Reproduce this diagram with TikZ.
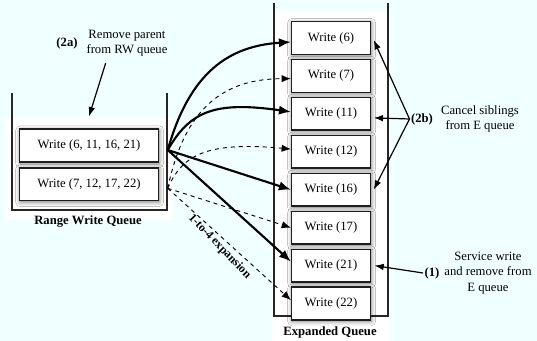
\documentclass[tikz,border=0pt]{standalone}
\usepackage{fontspec}
\setmainfont{Liberation Serif}
\usetikzlibrary{positioning,arrows.meta,shadows.blur}

\definecolor{bgcyan}{RGB}{240,255,255}
\definecolor{boxline}{RGB}{30,30,30}
\newcommand{\figfont}{\fontsize{9.5}{11.5}\selectfont}

\begin{document}
\begin{tikzpicture}[x=0.75pt, y=0.75pt, node distance=2.85pt,
    every node/.style={font=\figfont},
    wbox/.style={rectangle, draw=boxline, line width=1.1pt, fill=white, minimum height=24.5pt, inner sep=0pt,
        blur shadow={shadow xshift=0.5pt, shadow yshift=-1pt, shadow blur radius=3.5pt, shadow opacity=55}},
    rwbox/.style={wbox, minimum width=104pt},
    ebox/.style={wbox, minimum width=59pt},
    wall/.style={draw=black!85, line width=0.8pt},
    qlabel/.style={font=\figfont\bfseries},
    tag/.style={font=\figfont\bfseries, inner sep=1pt},
    note/.style={align=center, inner sep=1pt},
    expand/.style={-{Latex[length=9pt,width=7pt]}, line width=1.6pt},
    sibling/.style={-{Latex[length=7pt,width=5.5pt]}, dashed, line width=0.7pt},
    point/.style={-{Latex[length=7pt,width=5pt]}, line width=0.9pt}]

    % page and the two queue panels
    \fill[bgcyan] (0,0) rectangle (537,341);
    \useasboundingbox (0,0) rectangle (537,341);
    \fill[white] (5,121) rectangle (173,223);
    \fill[white] (272,0) rectangle (390,329);
    \draw[wall] (12,248) -- (12,131) -- (167,131) -- (167,248);
    \draw[wall] (274,338) -- (274,25) -- (388,25) -- (388,338);

    % range write queue
    \node (rw1) [rwbox] at (89,195.5) {Write (6, 11, 16, 21)};
    \node (rw2) [rwbox, below=3.5pt of rw1] {Write (7, 12, 17, 22)};
    \node (rwq) [qlabel] at (88,119) {Range Write Queue};

    % expanded queue
    \node (e6) [ebox] at (331,303) {Write (6)};
    \node (e7) [ebox, below=of e6] {Write (7)};
    \node (e11) [ebox, below=of e7] {Write (11)};
    \node (e12) [ebox, below=of e11] {Write (12)};
    \node (e16) [ebox, below=of e12] {Write (16)};
    \node (e17) [ebox, below=of e16] {Write (17)};
    \node (e21) [ebox, below=of e17] {Write (21)};
    \node (e22) [ebox, below=of e21] {Write (22)};
    \node (eq) [qlabel] at (330,9) {Expanded Queue};

    % 1-to-4 expansion
    \coordinate (fan1) at ([xshift=6.5pt, yshift=-3.4pt]rw1.east);
    \coordinate (fan2) at ([xshift=6.5pt, yshift=-3pt]rw2.east);
    \draw[sibling] (fan2) .. controls (185,235) and (225,262) .. ([yshift=-2pt]e7.west);
    \draw[sibling] (fan2) .. controls (182,185) and (205,200) .. ([yshift=2pt]e12.west);
    \draw[sibling] (fan2) -- (e17.west);
    \draw[sibling] (fan2) -- ([yshift=2.5pt]e22.west);
    \draw[expand] (fan1) .. controls (190,270) and (230,295) .. ([yshift=-3pt]e6.west);
    \draw[expand] (fan1) .. controls (190,230) and (215,240) .. ([yshift=1.5pt]e11.west);
    \draw[expand] (fan1) -- (e16.west);
    \draw[expand] (fan1) -- ([yshift=3pt]e21.west);
    \node (ratio) [font=\fontsize{9}{11}\selectfont\bfseries, rotate=-46] at (219.5,94.5) {1-to-4 expansion};

    % (2a) remove parent
    \node (rmnote) [note] at (127,298) {Remove parent\\from RW queue};
    \node (t2a) [tag] at (67,298) {(2a)};
    \draw[point] ([xshift=-16pt, yshift=-4pt]rmnote.south) -- ([yshift=9pt]rw1.north);

    % (2b) cancel siblings
    \node (cnote) [note] at (480,222) {Cancel siblings\\from E queue};
    \node (t2b) [tag] at (422,222) {(2b)};
    \draw[point] (t2b.west) -- ([xshift=2pt, yshift=-1.5pt]e6.east);
    \draw[point] (t2b.west) -- ([xshift=2pt, yshift=-3pt]e11.east);
    \draw[point] (t2b.west) -- ([xshift=2pt]e16.east);

    % (1) service write
    \node (snote) [note] at (488,68) {Service write\\and remove from\\E queue};
    \node (t1) [tag] at (432,68) {(1)};
    \draw[point] (t1.west) -- ([xshift=2.5pt]e21.east);
\end{tikzpicture}
\end{document}
